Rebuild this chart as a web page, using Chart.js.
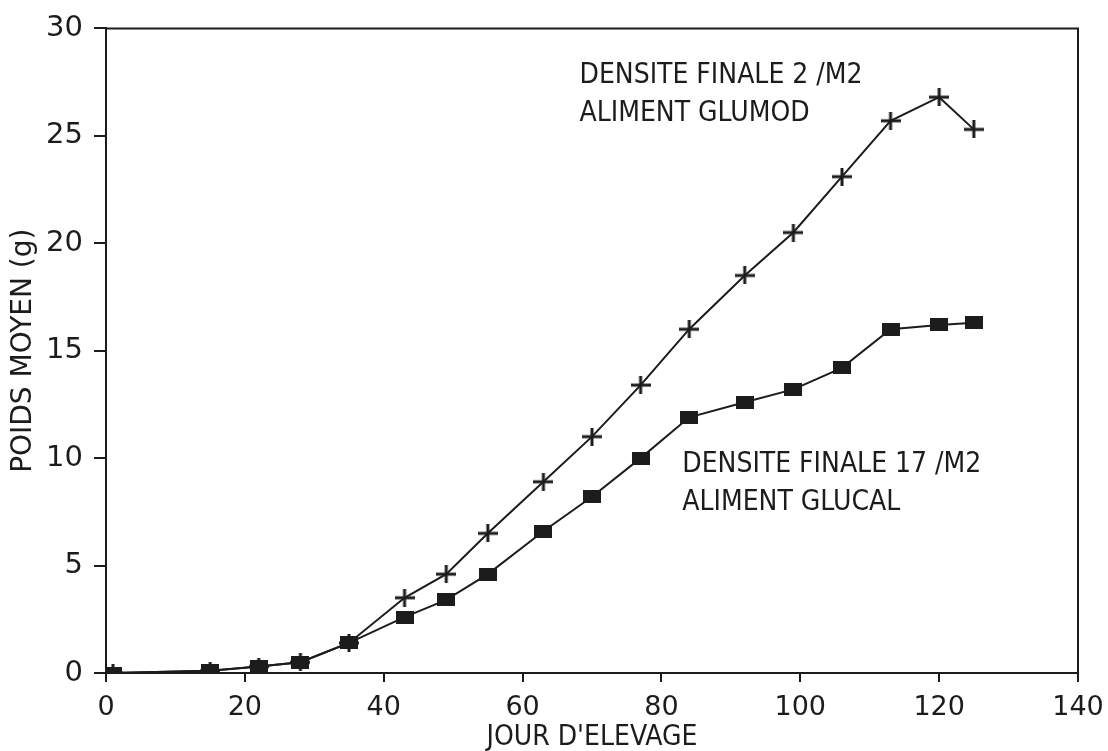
<!DOCTYPE html>
<html>
<head>
<meta charset="utf-8">
<title>Poids moyen</title>
<script src="https://cdn.jsdelivr.net/npm/chart.js@4"></script>
<style>
  html, body { margin: 0; padding: 0; background: #fff; }
  #wrap { width: 1108px; height: 751px; }
</style>
</head>
<body>
<div id="wrap"><canvas id="poidsChart"></canvas></div>
<script>
/* Data */
let days = [1, 15, 22, 28, 35, 43, 49, 55, 63, 70, 77, 84, 92, 99, 106, 113, 120, 125];
let glucal = [0, 0.1, 0.3, 0.5, 1.4, 2.6, 3.4, 4.6, 6.6, 8.2, 10.0, 11.9, 12.6, 13.2, 14.2, 16.0, 16.2, 16.3];
let glumod = [0, 0.1, 0.3, 0.5, 1.4, 3.5, 4.6, 6.5, 8.9, 11.0, 13.4, 16.0, 18.5, 20.5, 23.1, 25.7, 26.8, 25.3];
let xTicks = [0, 20, 40, 60, 80, 100, 120, 140];
let yTicks = [0, 5, 10, 15, 20, 25, 30];
let noteGlumod = ["DENSITE FINALE 2 /M2", "ALIMENT GLUMOD"];
let noteGlucal = ["DENSITE FINALE 17 /M2", "ALIMENT GLUCAL"];

const ink = "#1c1c1c";

/* Point markers */
function makeMarker(w, h, draw) {
    const c = document.createElement("canvas");
    c.width = w;
    c.height = h;
    draw(c.getContext("2d"), w, h);
    return c;
}
const squareMark = makeMarker(18, 13, function (g, w, h) {
    g.fillStyle = ink;
    g.fillRect(0, 0, w, h);
});
const crossMark = makeMarker(20, 18, function (g, w, h) {
    g.strokeStyle = ink;
    g.lineWidth = 3;
    g.beginPath();
    g.moveTo(0, h / 2); g.lineTo(w, h / 2);
    g.moveTo(w / 2, 0); g.lineTo(w / 2, h);
    g.stroke();
});

function toPoints(xs, ys) {
    return xs.map(function (x, i) { return { x: x, y: ys[i] }; });
}

/* Frame on top and right + notes beside the curves */
const frameAndNotes = {
    id: "frameAndNotes",
    afterDatasetsDraw(chart) {
        const ctx = chart.ctx;
        const a = chart.chartArea;
        const x = chart.scales.x, y = chart.scales.y;
        ctx.save();
        ctx.strokeStyle = ink;
        ctx.lineWidth = 2;
        ctx.beginPath();
        ctx.moveTo(a.left, a.top);
        ctx.lineTo(a.right, a.top);
        ctx.lineTo(a.right, a.bottom);
        ctx.stroke();

        ctx.fillStyle = ink;
        ctx.font = '28px "DejaVu Sans Condensed", "DejaVu Sans"';
        ctx.textBaseline = "alphabetic";
        function note(lines, xv, yv) {
            const px = x.getPixelForValue(xv);
            let py = y.getPixelForValue(yv);
            lines.forEach(function (t) {
                ctx.fillText(t, px, py);
                py += 38;
            });
        }
        note(noteGlumod, 68.2, 27.45);
        note(noteGlucal, 83.0, 9.35);
        ctx.restore();
    }
};

new Chart("poidsChart", {
    type: "line",
    data: {
        datasets: [{
            label: "Glucal 17/m2",
            data: toPoints(days, glucal),
            borderColor: ink,
            borderWidth: 2,
            pointStyle: squareMark,
            fill: false,
            tension: 0
        }, {
            label: "Glumod 2/m2",
            data: toPoints(days, glumod),
            borderColor: ink,
            borderWidth: 2,
            pointStyle: crossMark,
            fill: false,
            tension: 0
        }]
    },
    options: {
        responsive: true,
        maintainAspectRatio: false,
        animation: false,
        layout: { padding: { top: 23, right: 30, left: 0, bottom: 0 } },
        plugins: {
            legend: { display: false },
            tooltip: { enabled: false }
        },
        scales: {
            x: {
                type: "linear",
                min: 0,
                max: 140,
                afterBuildTicks: function (s) { s.ticks = xTicks.map(function (v) { return { value: v }; }); },
                afterFit: function (s) {
                    s.height = 78;
                    s.paddingLeft = 0;
                    s.paddingRight = 0;
                },
                border: { display: true, color: ink, width: 2 },
                grid: { display: true, drawOnChartArea: false, drawTicks: true, tickLength: 9, color: ink, lineWidth: 2 },
                ticks: {
                    color: ink,
                    padding: 10,
                    maxRotation: 0,
                    font: { family: '"DejaVu Sans"', size: 27 }
                },
                title: {
                    display: true,
                    text: "JOUR D'ELEVAGE",
                    color: ink,
                    padding: { top: 0, bottom: 2 },
                    font: { family: '"DejaVu Sans Condensed", "DejaVu Sans"', size: 28, lineHeight: 0.8 }
                }
            },
            y: {
                type: "linear",
                min: 0,
                max: 30,
                afterBuildTicks: function (s) { s.ticks = yTicks.map(function (v) { return { value: v }; }); },
                afterFit: function (s) { s.width = 106; },
                border: { display: true, color: ink, width: 2 },
                grid: { display: true, drawOnChartArea: false, drawTicks: true, tickLength: 12, color: ink, lineWidth: 2 },
                ticks: {
                    color: ink,
                    padding: 11,
                    font: { family: '"DejaVu Sans"', size: 29 }
                },
                title: {
                    display: true,
                    text: "POIDS MOYEN (g)",
                    color: ink,
                    padding: { top: 7, bottom: 0 },
                    font: { family: '"DejaVu Sans"', size: 28, lineHeight: 1.2 }
                }
            }
        }
    },
    plugins: [frameAndNotes]
});
</script>
</body>
</html>
